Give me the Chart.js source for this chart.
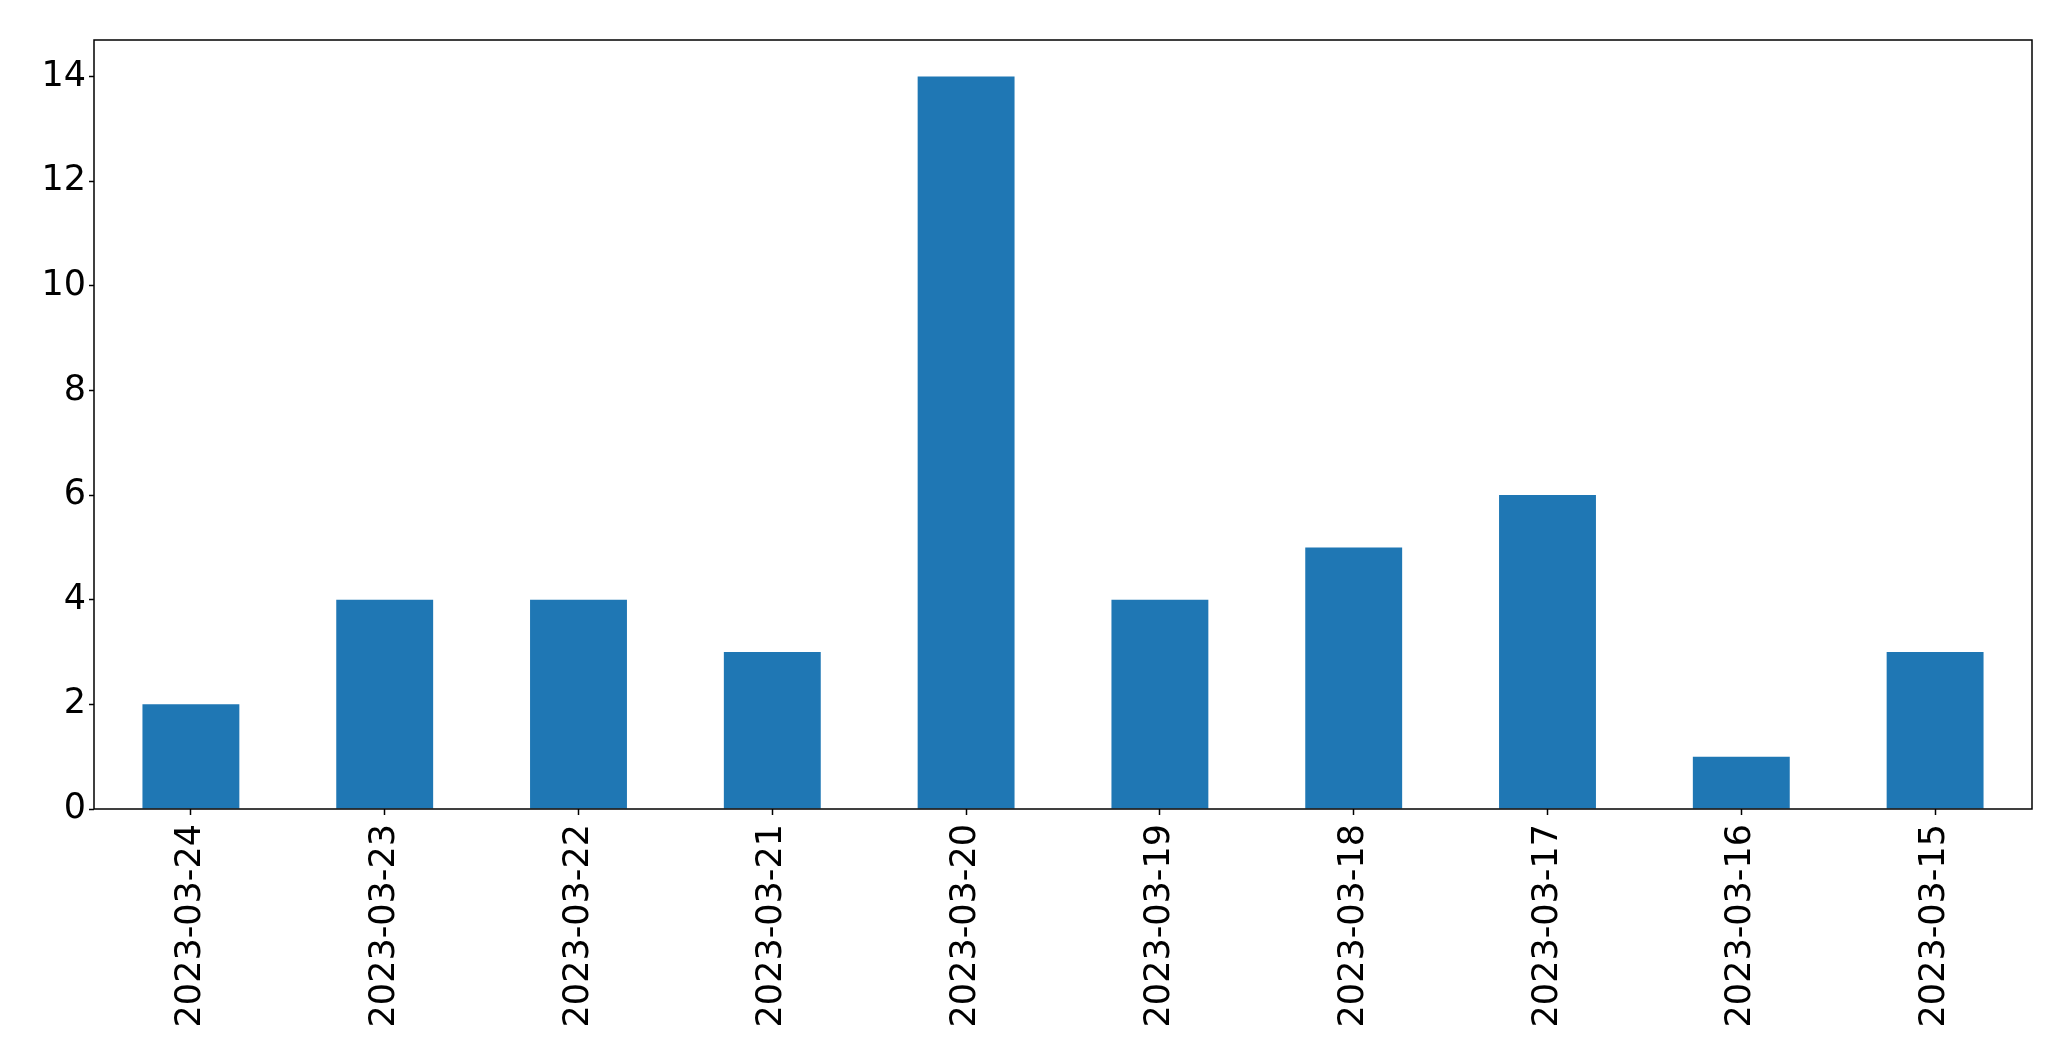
<!doctype html>
<html>

<head>
  <script src="https://cdn.jsdelivr.net/npm/chart.js@4/dist/chart.umd.min.js"></script>
  <style>
    body { margin: 0; background: #fff; }
  </style>
</head>

<body>
  <canvas id="canvas" width="2071" height="1061"></canvas>
  <script>
    const dates = ['2023-03-24', '2023-03-23', '2023-03-22', '2023-03-21', '2023-03-20',
      '2023-03-19', '2023-03-18', '2023-03-17', '2023-03-16', '2023-03-15'];
    const counts = [2, 4, 4, 3, 14, 4, 5, 6, 1, 3];
    const yTicks = [0, 2, 4, 6, 8, 10, 12, 14];

    // black frame round the plot area, like matplotlib spines
    const frame = {
      id: 'frame',
      afterDraw(chart) {
        const { ctx, chartArea: a } = chart;
        ctx.save();
        ctx.strokeStyle = '#000';
        ctx.lineWidth = 1.5;
        ctx.strokeRect(a.left, a.top, a.right - a.left, a.bottom - a.top);
        ctx.restore();
      }
    };

    const font = { family: 'DejaVu Sans', size: 35 };

    new Chart(document.getElementById('canvas').getContext('2d'), {
      type: 'bar',
      data: {
        labels: dates,
        datasets: [{
          data: counts,
          backgroundColor: '#1f77b4',
          borderWidth: 0,
          barPercentage: 0.5,
          categoryPercentage: 1.0
        }]
      },
      options: {
        responsive: false,
        animation: false,
        devicePixelRatio: 1,
        layout: { padding: { top: 40, right: 39, left: 0, bottom: 0 } },
        plugins: { legend: { display: false }, tooltip: { enabled: false } },
        scales: {
          x: {
            offset: true,
            grid: { offset: false, drawOnChartArea: false, tickLength: 6, color: '#000', tickWidth: 1.5 },
            border: { display: false },
            ticks: { color: '#000', font, minRotation: 90, maxRotation: 90, padding: 9, autoSkip: false },
            afterFit(scale) { scale.height = 252; }
          },
          y: {
            min: 0,
            max: 14.7,
            grid: { drawOnChartArea: false, tickLength: 5, color: '#000', tickWidth: 1.5 },
            border: { display: false },
            ticks: { color: '#000', font, stepSize: 2, padding: 3 },
            afterBuildTicks(scale) {
              scale.ticks = yTicks.map((v) => ({ value: v }));
            },
            afterFit(scale) { scale.width = 94; }
          }
        }
      },
      plugins: [frame]
    });
  </script>
</body>

</html>
